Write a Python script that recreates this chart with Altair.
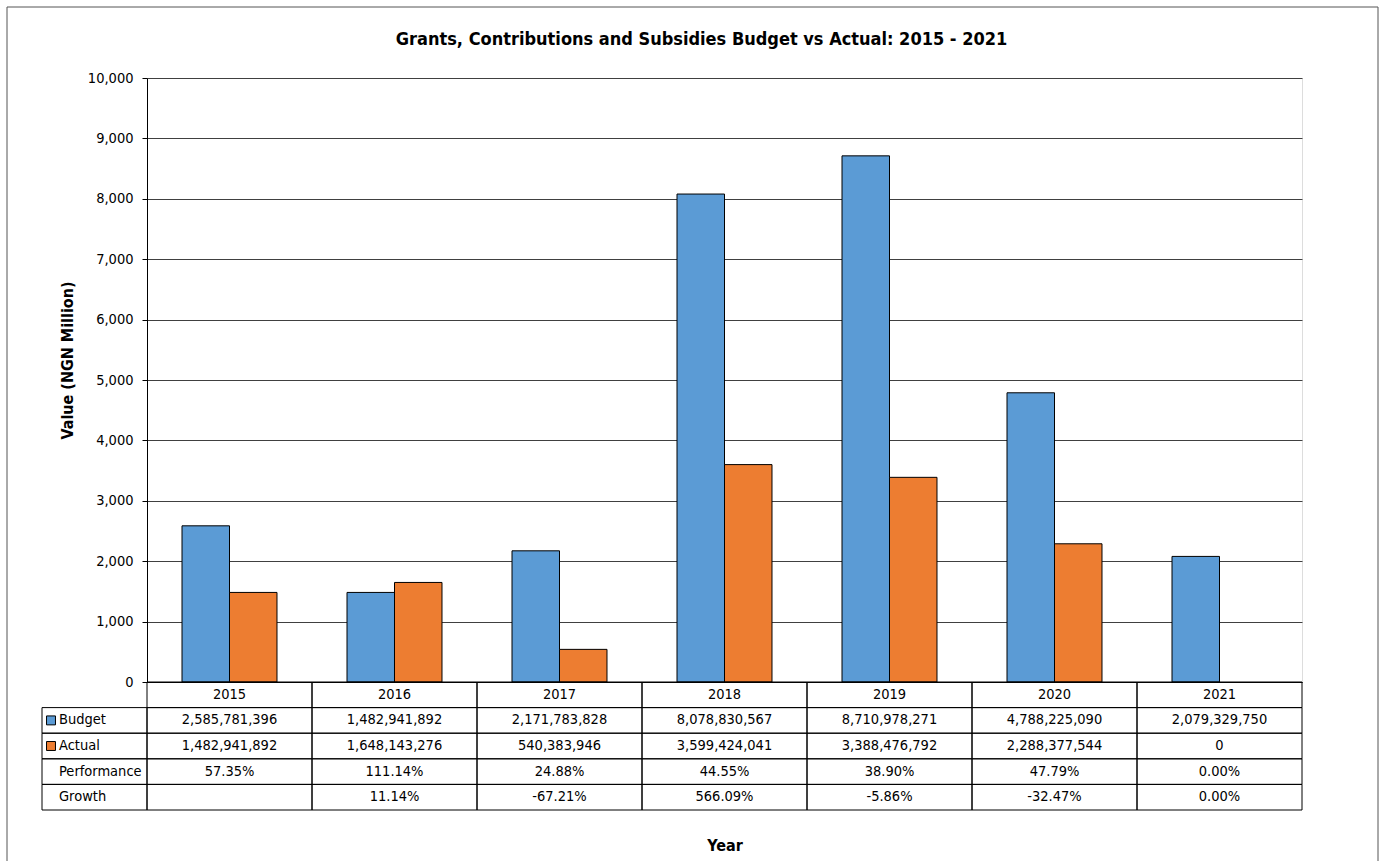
import altair as alt
import pandas as pd

years = ["2015", "2016", "2017", "2018", "2019", "2020", "2021"]
budget = [2585781396, 1482941892, 2171783828, 8078830567, 8710978271, 4788225090, 2079329750]
actual = [1482941892, 1648143276, 540383946, 3599424041, 3388476792, 2288377544, 0]
performance = ["57.35%", "111.14%", "24.88%", "44.55%", "38.90%", "47.79%", "0.00%"]
growth = ["", "11.14%", "-67.21%", "566.09%", "-5.86%", "-32.47%", "0.00%"]
series = ["Budget", "Actual"]
colors = ["#5B9BD5", "#ED7D31"]
rows = ["Year", "Budget", "Actual", "Performance", "Growth"]

FONT = "DejaVu Sans Condensed"
FS = 14.5
W, H, TH = 1155, 604, 128

bars_df = pd.DataFrame({
    "Year": years * 2,
    "Series": ["Budget"] * len(years) + ["Actual"] * len(years),
    "Value": [v / 1e6 for v in budget + actual],
})

cells = []
for i, yr in enumerate(years):
    cells.append({"Year": yr, "Row": "Year", "Text": yr})
    cells.append({"Year": yr, "Row": "Budget", "Text": f"{budget[i]:,}"})
    cells.append({"Year": yr, "Row": "Actual", "Text": f"{actual[i]:,}"})
    cells.append({"Year": yr, "Row": "Performance", "Text": performance[i]})
    cells.append({"Year": yr, "Row": "Growth", "Text": growth[i]})
cells_df = pd.DataFrame(cells)
labels_df = pd.DataFrame({"Row": rows[1:], "Label": rows[1:]})
legend_df = pd.DataFrame({"Row": series, "Series": series})
frame_df = pd.DataFrame({"k": [0]})

x_scale = alt.Scale(domain=years, paddingInner=0, paddingOuter=0)
color_scale = alt.Scale(domain=series, range=colors)
row_scale = alt.Scale(domain=rows, range=[H, H + TH], paddingInner=0, paddingOuter=0)

bars = alt.Chart(bars_df).transform_filter("datum.Value > 0").mark_bar(
    stroke="black", strokeWidth=1, opacity=1
).encode(
    x=alt.X("Year:N", scale=x_scale, sort=years,
            axis=alt.Axis(title="Year", labels=False, ticks=False, domain=True,
                          domainColor="black", domainWidth=1, grid=False,
                          titleFont=FONT, titleFontSize=16, titleFontWeight="bold",
                          titleColor="black", titlePadding=155)),
    xOffset=alt.XOffset("Series:N", sort=series,
                        scale=alt.Scale(domain=series, paddingInner=0, paddingOuter=0.737)),
    y=alt.Y("Value:Q", scale=alt.Scale(domain=[0, 10000]),
            axis=alt.Axis(title="Value (NGN Million)", format=",d",
                          values=list(range(0, 10001, 1000)),
                          tickSize=5, tickColor="black", domainColor="black",
                          gridColor="#404040", gridWidth=1,
                          labelFont=FONT, labelFontSize=FS, labelColor="black",
                          labelPadding=9,
                          titleFont=FONT, titleFontSize=16, titleFontWeight="bold",
                          titleColor="black", titlePadding=12, titleY=282)),
    color=alt.Color("Series:N", scale=color_scale, legend=None),
)

cell_rects = alt.Chart(cells_df).mark_rect(fillOpacity=0, stroke="black", strokeWidth=1).encode(
    x=alt.X("Year:N", scale=x_scale, sort=years),
    y=alt.Y("Row:N", scale=row_scale, axis=None),
)

label_rects = alt.Chart(labels_df).mark_rect(fillOpacity=0, stroke="black", strokeWidth=1).encode(
    x=alt.value(-105), x2=alt.value(0),
    y=alt.Y("Row:N", scale=row_scale, axis=None),
)

cell_text = alt.Chart(cells_df).mark_text(font=FONT, fontSize=FS, color="black").encode(
    x=alt.X("Year:N", scale=x_scale, sort=years),
    y=alt.Y("Row:N", scale=row_scale, axis=None),
    text="Text:N",
)

label_text = alt.Chart(labels_df).mark_text(font=FONT, fontSize=FS, color="black", align="left").encode(
    x=alt.value(-88),
    y=alt.Y("Row:N", scale=row_scale, axis=None),
    text="Label:N",
)

legend_sq = alt.Chart(legend_df).mark_square(size=80, stroke="black", strokeWidth=1, opacity=1, filled=True).encode(
    x=alt.value(-96),
    y=alt.Y("Row:N", scale=row_scale, axis=None),
    color=alt.Color("Series:N", scale=color_scale, legend=None),
)

frame = alt.Chart(frame_df).mark_rect(fillOpacity=0, stroke="#555555", strokeWidth=1).encode(
    x=alt.value(-140), x2=alt.value(1231), y=alt.value(-71), y2=alt.value(800),
)

chart = alt.layer(frame, bars, cell_rects, label_rects, cell_text, label_text, legend_sq).resolve_scale(
    y="independent"
).properties(
    width=W, height=H,
    title=alt.TitleParams(text="Grants, Contributions and Subsidies Budget vs Actual: 2015 - 2021",
                          font=FONT, fontSize=18, fontWeight="bold", color="black",
                          anchor="middle", dx=-23, offset=-42),
    autosize=alt.AutoSizeParams(type="none"),
    padding={"left": 147, "top": 78, "right": 81, "bottom": 179},
).configure_view(stroke="#A0A0A0", strokeWidth=1).configure(background="white", font=FONT)

chart.save("out.html", embed_options={"renderer": "svg", "actions": False})
